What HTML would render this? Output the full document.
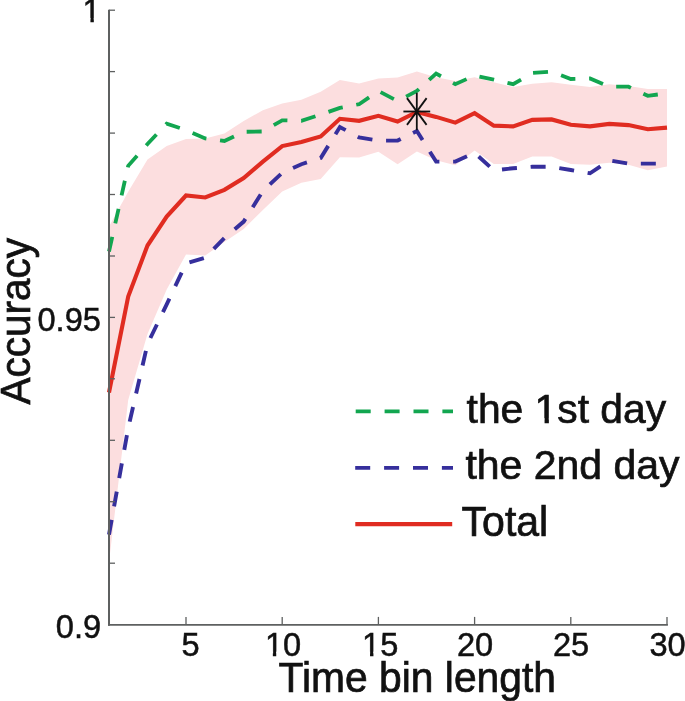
<!DOCTYPE html>
<html><head><meta charset="utf-8"><title>Accuracy vs time bin length</title>
<style>
html,body{margin:0;padding:0;background:#fff;}
body{width:685px;height:701px;overflow:hidden;}
svg{display:block;}
text{font-family:"Liberation Sans",Arial,Helvetica,sans-serif;fill:#111;}
</style></head><body>
<svg width="685" height="701" viewBox="0 0 685 701">
<rect width="685" height="701" fill="#fff"/>
<polygon points="109.0,226.5 128.2,191.8 147.5,159.5 166.7,146.0 186.0,139.0 205.2,138.5 224.4,133.5 243.7,121.0 262.9,110.2 282.2,103.4 301.4,99.7 320.7,91.8 339.9,79.9 359.1,83.6 378.4,78.6 397.6,77.4 416.9,71.5 436.1,77.2 455.3,80.9 474.6,77.2 493.8,82.2 513.1,87.1 532.3,83.8 551.6,82.2 570.8,84.7 590.0,87.1 609.3,84.2 628.5,85.9 647.8,88.9 667.0,88.9 667.0,166.5 647.8,170.3 628.5,164.8 609.3,162.8 590.0,164.8 570.8,164.0 551.6,156.6 532.3,156.6 513.1,164.0 493.8,164.0 474.6,150.4 455.3,165.3 436.1,160.3 416.9,151.5 397.6,164.2 378.4,151.8 359.1,157.5 339.9,157.3 320.7,179.1 301.4,182.8 282.2,191.5 262.9,210.0 243.7,229.0 224.4,242.0 205.2,255.5 186.0,254.5 166.7,289.5 147.5,334.0 128.2,400.0 109.0,562.0" fill="#fcdedf"/>
<g fill="none" stroke-linejoin="miter">
<polyline points="109.0,251.5 128.2,165.8 147.5,144.0 166.7,123.6 186.0,130.0 205.2,138.5 224.4,141.0 243.7,131.8 262.9,131.5 282.2,120.3 301.4,120.8 320.7,114.6 339.9,107.9 359.1,104.2 378.4,91.0 397.6,101.0 416.9,91.0 436.1,73.5 455.3,84.2 474.6,75.5 493.8,79.7 513.1,84.2 532.3,73.0 551.6,71.6 570.8,79.0 590.0,78.5 609.3,86.7 628.5,86.7 647.8,95.8 667.0,93.3" stroke="#12a650" stroke-width="3.8" stroke-dasharray="15 13.75"/>
<polyline points="109.0,534.7 128.2,428.0 147.5,344.0 166.7,304.4 186.0,263.4 205.2,257.7 224.4,238.0 243.7,221.6 262.9,191.0 282.2,172.9 301.4,164.2 320.7,158.0 339.9,127.0 359.1,137.4 378.4,140.6 397.6,140.6 416.9,131.0 436.1,161.6 455.3,161.6 474.6,152.9 493.8,170.3 513.1,168.3 532.3,166.8 551.6,166.8 570.8,170.0 590.0,173.3 609.3,160.3 628.5,163.6 647.8,163.6 667.0,163.6" stroke="#362f9c" stroke-width="3.9" stroke-dasharray="15 13.75"/>
<polyline points="109.0,392.5 128.2,296.5 147.5,245.5 166.7,216.6 186.0,195.5 205.2,197.5 224.4,189.8 243.7,178.0 262.9,161.6 282.2,146.1 301.4,141.9 320.7,136.4 339.9,118.8 359.1,120.8 378.4,115.8 397.6,121.5 416.9,112.0 436.1,116.9 455.3,122.6 474.6,113.2 493.8,125.6 513.1,126.4 532.3,119.9 551.6,119.4 570.8,124.7 590.0,126.4 609.3,123.9 628.5,125.1 647.8,129.3 667.0,127.6" stroke="#e02c21" stroke-width="4.1"/>
</g>
<g stroke="#5e6060" fill="none">
<line x1="109" y1="9.7" x2="109" y2="625.7" stroke-width="2"/>
<line x1="108" y1="624.8" x2="667.9" y2="624.8" stroke-width="1.8"/>
<g stroke-width="1.3">
<line x1="109" y1="10.2" x2="115" y2="10.2"/><line x1="109" y1="71.6" x2="115" y2="71.6"/><line x1="109" y1="133.1" x2="115" y2="133.1"/><line x1="109" y1="194.5" x2="115" y2="194.5"/><line x1="109" y1="256.0" x2="115" y2="256.0"/><line x1="109" y1="317.4" x2="115" y2="317.4"/><line x1="109" y1="378.8" x2="115" y2="378.8"/><line x1="109" y1="440.3" x2="115" y2="440.3"/><line x1="109" y1="501.7" x2="115" y2="501.7"/><line x1="109" y1="563.2" x2="115" y2="563.2"/>
<line x1="186.0" y1="624.8" x2="186.0" y2="616.9"/><line x1="282.2" y1="624.8" x2="282.2" y2="616.9"/><line x1="378.4" y1="624.8" x2="378.4" y2="616.9"/><line x1="474.6" y1="624.8" x2="474.6" y2="616.9"/><line x1="570.8" y1="624.8" x2="570.8" y2="616.9"/><line x1="667.0" y1="624.8" x2="667.0" y2="616.9"/>
</g>
</g>
<g stroke="#111" stroke-width="1.8" fill="none">
<line x1="416.8" y1="92.8" x2="416.8" y2="130.2"/>
<line x1="403.4" y1="111.5" x2="430.2" y2="111.5"/>
<line x1="407" y1="98.1" x2="426.6" y2="124.9"/>
<line x1="407" y1="124.9" x2="426.6" y2="98.1"/>
</g>
<g font-size="32.6" stroke="#111" stroke-width="0.5">
<text transform="translate(82.5,22.3) scale(1,1.03)">1</text>
<text transform="translate(100.9,330.7) scale(1,1.03)" text-anchor="end">0.95</text>
<text transform="translate(101.1,638.2) scale(1,1.03)" text-anchor="end">0.9</text>
<text transform="translate(181.6,656) scale(1,1.03)">5</text>
<text transform="translate(264.9,656) scale(1,1.03)">10</text>
<text transform="translate(362.1,656) scale(1,1.03)">15</text>
<text transform="translate(457,656) scale(1,1.03)">20</text>
<text transform="translate(553,656) scale(1,1.03)">25</text>
<text transform="translate(649.4,656) scale(1,1.03)">30</text>
</g>
<g font-size="41" stroke="#111" stroke-width="0.7">
<text transform="translate(278.6,692) scale(1,1.02)" font-size="40.8">Time bin length</text>
<text transform="translate(29.8,404.5) rotate(-90) scale(1,1.03)" font-size="40.5">Accuracy</text>
<text transform="translate(466.6,423.2) scale(1,0.99)" font-size="40.8">the 1st day</text>
<text transform="translate(465.4,479.2) scale(1,0.99)">the 2nd day</text>
<text transform="translate(461.6,536.3) scale(1,1.06)">Total</text>
</g>
<g fill="#fff"><rect x="83.73" y="17.94" width="6.71" height="5.51"/><rect x="93.83" y="17.94" width="6.46" height="5.51"/><rect x="266.13" y="651.64" width="6.71" height="5.51"/><rect x="276.23" y="651.64" width="6.46" height="5.51"/><rect x="363.33" y="651.64" width="6.71" height="5.51"/><rect x="373.43" y="651.64" width="6.46" height="5.51"/><rect x="536.41" y="418.23" width="8.15" height="6.22"/><rect x="548.87" y="418.23" width="7.83" height="6.22"/></g>
<g fill="none">
<line x1="355.7" y1="411.3" x2="453" y2="411.3" stroke="#12a650" stroke-width="3.7" stroke-dasharray="15 13.9"/>
<line x1="355.2" y1="467.8" x2="453" y2="467.8" stroke="#362f9c" stroke-width="3.8" stroke-dasharray="15 13.9"/>
<line x1="355.3" y1="524.1" x2="452.2" y2="524.1" stroke="#e02c21" stroke-width="4.1"/>
</g>
</svg>
</body></html>
